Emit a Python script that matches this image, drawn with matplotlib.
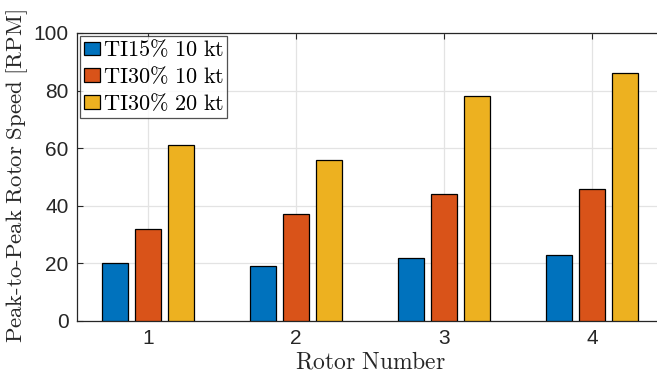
import numpy as np
import matplotlib
matplotlib.use('Agg')
import matplotlib.pyplot as plt

# peak-to-peak rotor speed per rotor, three inflow cases
rotors = [1, 2, 3, 4]
ti15_10kt = [20, 19, 22, 23]
ti30_10kt = [32, 37, 44, 46]
ti30_20kt = [61, 56, 78, 86]
case_labels = [r'$\mathrm{TI15\%\ 10\ kt}$', r'$\mathrm{TI30\%\ 10\ kt}$', r'$\mathrm{TI30\%\ 20\ kt}$']

plt.rcParams['mathtext.fontset'] = 'cm'
plt.rcParams['font.family'] = 'Liberation Sans'

colors = ['#0072BD', '#D95319', '#EDB120']
dark = '#262626'

fig = plt.figure(figsize=(6.57, 3.76), dpi=100)
ax = fig.add_axes([77/657, 1 - 321/376, (663 - 77)/657, (321 - 33)/376])

x = np.array(rotors)
offs = [-0.222, 0.0, 0.222]
for series, off, c, lab in zip([ti15_10kt, ti30_10kt, ti30_20kt], offs, colors, case_labels):
    ax.bar(x + off, series, width=0.178, color=c, edgecolor='black', linewidth=0.9,
           label=lab, zorder=3)

ax.set_xlim(0.52, 4.48)
ax.set_ylim(0, 100)
ax.set_xticks(rotors)
ax.set_yticks(range(0, 101, 20))
ax.grid(True, color='#e3e3e3', linewidth=0.9, zorder=0)
ax.tick_params(direction='in', top=True, right=True, labelsize=15,
               colors=dark, length=4, pad=6)
for s in ax.spines.values():
    s.set_color(dark)
    s.set_linewidth(0.9)

ax.set_xlabel(r'$\mathrm{Rotor\ Number}$', fontsize=17, color=dark, labelpad=2)
ax.set_ylabel(r'$\mathrm{Peak\text{-}to\text{-}Peak\ Rotor\ Speed\ [RPM]}$', fontsize=16.4,
              color=dark)
ax.yaxis.set_label_coords(-0.08, 0.502)

leg = ax.legend(loc='upper left', fontsize=16, frameon=True, fancybox=False,
                edgecolor=dark, borderaxespad=0.15, handlelength=0.75, handleheight=0.55,
                handletextpad=0.1, labelspacing=0.22, borderpad=0.15)
leg.get_frame().set_linewidth(0.9)

fig.savefig('out.png', dpi=100)
